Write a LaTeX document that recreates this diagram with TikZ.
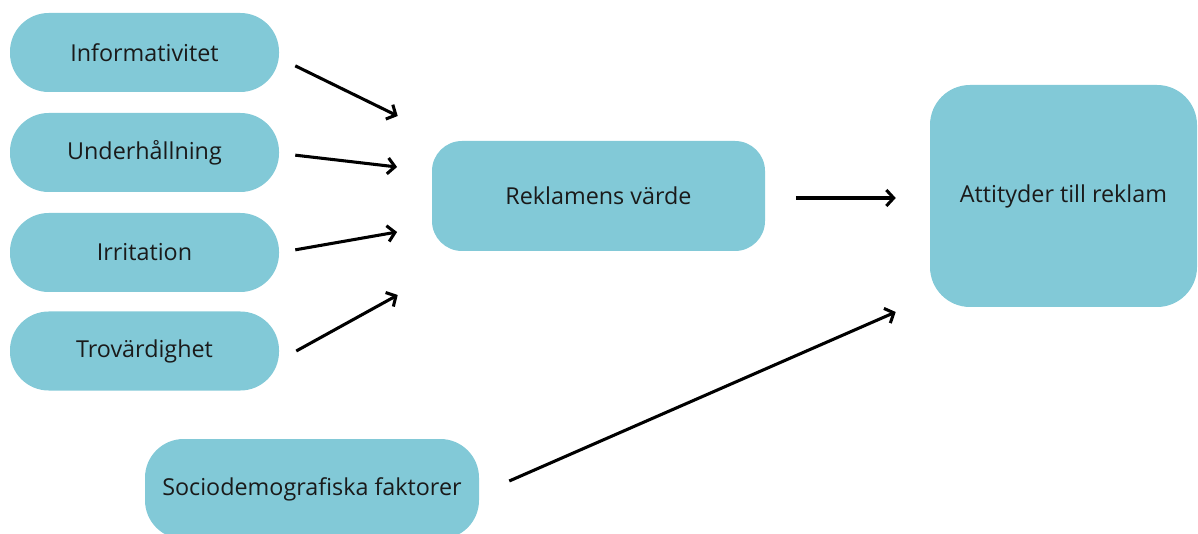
\documentclass[tikz,border=0pt]{standalone}
\usepackage{fontspec}
\setmainfont{Open Sans}
\usetikzlibrary{arrows.meta}
\definecolor{boxteal}{RGB}{130,201,215}
\definecolor{boxtext}{RGB}{26,26,26}
\begin{document}
\begin{tikzpicture}[x=0.75pt, y=-0.75pt,
    box/.style={fill=boxteal, draw=none, text=boxtext, font=\fontsize{17.5}{20}\selectfont,
        inner sep=0pt},
    pill/.style={box, minimum width=201.75pt, minimum height=59.25pt, rounded corners=29pt},
    arr/.style={line width=2.3pt, black, -{Straight Barb[length=5.5pt, width=12pt, line width=2.3pt]}}]
    \useasboundingbox (0,0) rectangle (1198,534);
    \clip (0,0) rectangle (1198,534);

    % Faktorer till vänster
    \node[pill] (info) at (144.5,52.5) {Informativitet};
    \node[pill] (under) at (144.5,152.5) {Underhållning};
    \node[pill] (irr) at (144.5,252.5) {Irritation};
    \node[pill] (trov) at (144.5,351) {Trovärdighet};

    % Mitten och höger
    \node[box, minimum width=249.75pt, minimum height=82.5pt, rounded corners=22.5pt] (varde) at (598.5,196) {Reklamens värde};
    \node[box, minimum width=200.25pt, minimum height=166.5pt, rounded corners=30pt] (attityd) at (1063.5,196) {Attityder till reklam};

    % Nederst
    \node[box, minimum width=250.5pt, minimum height=75pt, rounded corners=29pt] (socio) at (312,489) {Sociodemografiska faktorer};

    % Pilarnas ändar
    \coordinate (in1) at ([xshift=-25.5pt, yshift=60pt]varde.west);
    \coordinate (in2) at ([xshift=-26pt, yshift=21.75pt]varde.west);
    \coordinate (in3) at ([xshift=-26pt, yshift=-27pt]varde.west);
    \coordinate (in4) at ([xshift=-25.5pt, yshift=-74.25pt]varde.west);
    \coordinate (in5) at ([xshift=-25.5pt, yshift=-1.5pt]attityd.west);
    \coordinate (in6) at ([xshift=-25.5pt, yshift=-87pt]attityd.west);

    % Pilar
    \draw[arr] ([xshift=12pt, yshift=-10pt]info.east) -- (in1);
    \draw[arr] ([xshift=12pt, yshift=-2pt]under.east) -- (in2);
    \draw[arr] ([xshift=12pt, yshift=2pt]irr.east) -- (in3);
    \draw[arr] ([xshift=12.75pt]trov.east) -- (in4);
    \draw[arr] ([xshift=23pt, yshift=-1.5pt]varde.east) -- (in5);
    \draw[arr] ([xshift=22.5pt, yshift=6pt]socio.east) -- (in6);
\end{tikzpicture}
\end{document}
